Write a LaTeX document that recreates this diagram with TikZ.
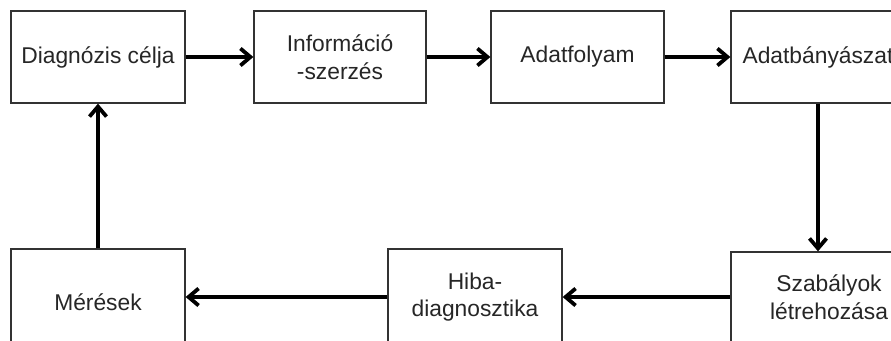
\documentclass[tikz,border=0pt]{standalone}
\usepackage{fontspec}
\setmainfont{Liberation Sans}
\usetikzlibrary{arrows.meta}
\definecolor{boxline}{HTML}{333333}
\definecolor{boxtext}{HTML}{262626}
\begin{document}
\begin{tikzpicture}[x=1pt,y=-1pt,
  stagebox/.style={draw=boxline, line width=1.3pt, rectangle, inner sep=0pt,
    text=boxtext, align=center, font=\fontsize{22.8}{27.5}\selectfont},
  flow/.style={line width=4.8pt, draw=black,
    -{Straight Barb[length=10pt,width=17pt,line width=3.8pt]}}]
  \useasboundingbox (0,0) rectangle (891,340);
  \clip (0,0) rectangle (891,340);
  % top row
  \node[stagebox, minimum width=174pt, minimum height=92pt] (cel) at (98,57) {Diagnózis célja};
  \node[stagebox, minimum width=172pt, minimum height=92pt] (info) at (340,57) {Információ\\-szerzés};
  \node[stagebox, minimum width=173pt, minimum height=92pt] (folyam) at (577.5,57) {Adatfolyam};
  \node[stagebox, minimum width=174pt, minimum height=92pt] (banyasz) at (818,57) {Adatbányászat};
  % bottom row
  \node[stagebox, minimum width=174pt, minimum height=106pt] (meres) at (98,302) {Mérések};
  \node[stagebox, minimum width=174pt, minimum height=96pt] (hiba) at (475,297) {Hiba-\\diagnosztika};
  \node[stagebox, minimum width=196pt, minimum height=90pt] (szab) at (829,297) {Szabályok\\létrehozása};
  % connectors
  \draw[flow] (cel.east) -- (info.west);
  \draw[flow] (info.east) -- (folyam.west);
  \draw[flow] (folyam.east) -- (banyasz.west);
  \draw[flow] (banyasz.south) -- (banyasz.south |- szab.north);
  \draw[flow] (szab.west) -- (hiba.east);
  \draw[flow] (hiba.west) -- (hiba.west -| meres.east);
  \draw[flow] (meres.north) -- (cel.south);
\end{tikzpicture}
\end{document}
